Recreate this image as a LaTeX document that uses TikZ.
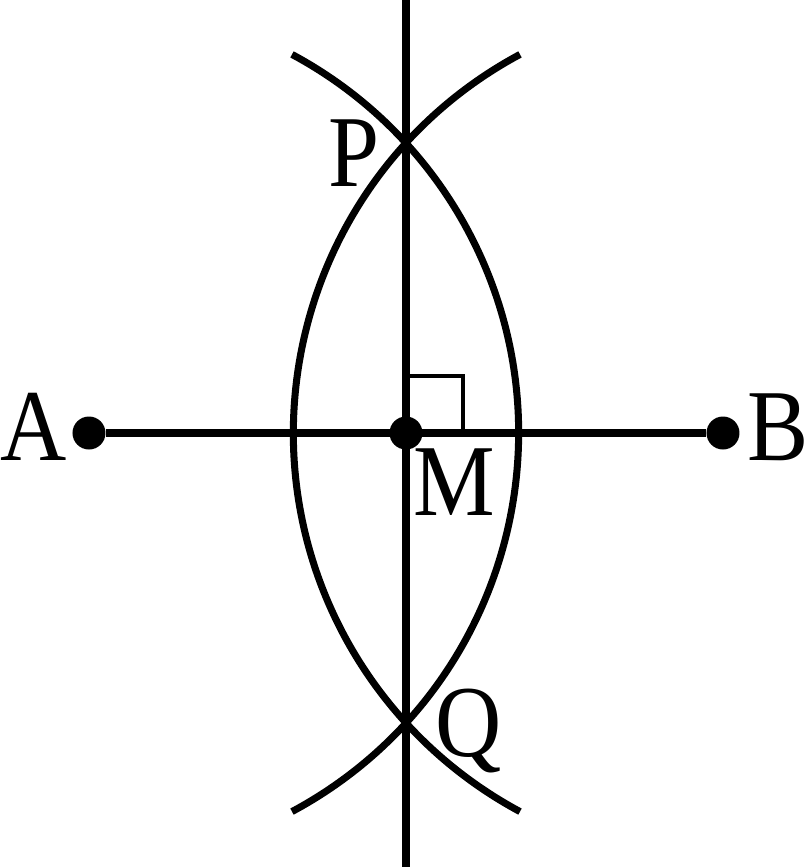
\documentclass[tikz,border=0pt]{standalone}
\usepackage{fontspec}
\setmainfont{Liberation Serif}[FakeStretch=0.9]
\usepackage{tikz}
\usetikzlibrary{positioning}

\begin{document}
\begin{tikzpicture}[
  dot/.style={circle,fill,inner sep=0pt,minimum size=0.33cm},
  lbl/.style={inner sep=0pt,font=\fontsize{29}{34}\selectfont},
  heavy/.style={line width=2pt}]
\useasboundingbox (-4.06,-4.35) rectangle (4.04,4.33);
\path
(0,0)      node[dot] (M) {} node[lbl,anchor=north west,xshift=0.07cm,yshift=-0.15cm] {M}
+(-3.17,0) node[dot] (A) {} node[lbl,left=0.22cm,yshift=0.06cm] {A}
+(3.17,0)  node[dot] (B) {} node[lbl,right=0.24cm,yshift=0.06cm] {B}
+(0,2.9)   coordinate (P) node[lbl,anchor=east,xshift=-0.26cm,yshift=-0.1cm] {P}
+(0,-2.9)  coordinate (Q) node[lbl,anchor=north west,xshift=0.29cm,yshift=0.35cm] {Q}
+(0,4.33)  coordinate (top)
+(0,-4.34) coordinate (bot);

\draw[heavy] (A)--(B);
\draw[heavy] (top)--(bot);
\draw[heavy] (A.center) ++(-61.8:4.296) arc[start angle=-61.8,end angle=61.8,radius=4.296];
\draw[heavy] (B.center) ++(118.2:4.296) arc[start angle=118.2,end angle=241.8,radius=4.296];
\draw[line width=0.9pt] ([yshift=0.57cm]M.center) -| ([xshift=0.57cm]M.center);
% \draw[red] (P) circle(0.05);
\end{tikzpicture}
\end{document}
